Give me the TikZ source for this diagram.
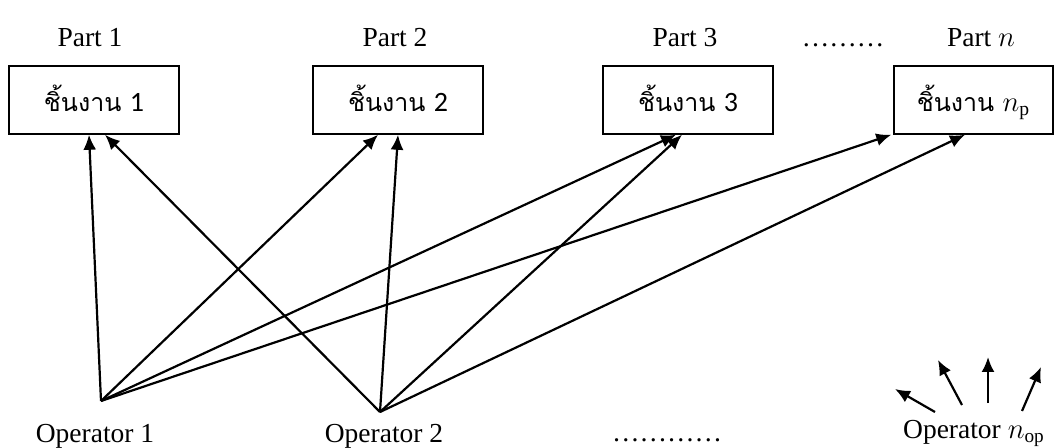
\documentclass[tikz,border=0pt]{standalone}
\usepackage{fontspec}
\setmainfont{Liberation Serif}
\newfontfamily\thaifont[Script=Thai]{Loma}
\newfontfamily\numfont{Carlito}
\usetikzlibrary{arrows.meta,calc}

\begin{document}
\begin{tikzpicture}[
					x=0.5pt, y=-0.5pt,
					every node/.style={font=\fontsize{13.75}{16}\selectfont},
					pbox/.style={draw, line width=0.75pt, minimum width=85pt, minimum height=34pt, inner sep=0pt,
						text height=12.5pt, text depth=1pt, font=\fontsize{12.5}{15}\selectfont},
					arr/.style={-{Latex[length=7.5pt,width=6.5pt]}, line width=1.1pt}
					]

					\useasboundingbox (0,0) rectangle (1054,448);

					% parts
					\node[pbox] (p1) at (94,100) {\thaifont ชิ้นงาน \numfont\fontsize{14}{16}\selectfont 1};
					\node[pbox] (p2) at (398,100) {\thaifont ชิ้นงาน \numfont\fontsize{14}{16}\selectfont 2};
					\node[pbox] (p3) at (688,100) {\thaifont ชิ้นงาน \numfont\fontsize{14}{16}\selectfont 3};
					\node[pbox, minimum width=79.5pt] (p4) at (973.5,100) {\thaifont ชิ้นงาน \fontsize{14}{16}\selectfont$n_{\mathrm{p}}$};

					\node[anchor=base] (t1) at (90,47) {Part 1};
					\node[anchor=base] (t2) at (395,47) {Part 2};
					\node[anchor=base] (t3) at (685,47) {Part 3};
					\node[anchor=base] (tdots) at (843,47) {\dots\dots\dots};
					\node[anchor=base] (tn) at (981,47) {Part $n$};

					% operators
					\coordinate (o1) at (101,401);
					\coordinate (o2) at (380,412);
					\node[anchor=base] (op1) at (95,443) {Operator 1};
					\node[anchor=base] (op2) at (384,443) {Operator 2};
					\node[anchor=base] (opdots) at (667,441) {\dots\dots\dots\dots};
					\node[anchor=base] (opn) at (974,438) {Operator $n_{\mathrm{op}}$};

					\draw[arr] (o1) -- ($(p1.south)+(-5,0)$);
					\draw[arr] (o1) -- ($(p2.south)+(-20,0)$);
					\draw[arr] (o1) -- ($(p3.south)+(-12,0)$);
					\draw[arr] (o1) -- ($(p4.south west)+(-2,0)$);

					\draw[arr] (o2) -- ($(p1.south)+(11,0)$);
					\draw[arr] (o2) -- (p2.south);
					\draw[arr] (o2) -- ($(p3.south)+(-6,0)$);
					\draw[arr] (o2) -- ($(p4.south)+(-8.5,0)$);

					\draw[arr] (935,412) -- (895,389);
					\draw[arr] (962,405) -- (938,360);
					\draw[arr] (988,403) -- (988,357);
					\draw[arr] (1022,411) -- (1041,367);

				\end{tikzpicture}
\end{document}
